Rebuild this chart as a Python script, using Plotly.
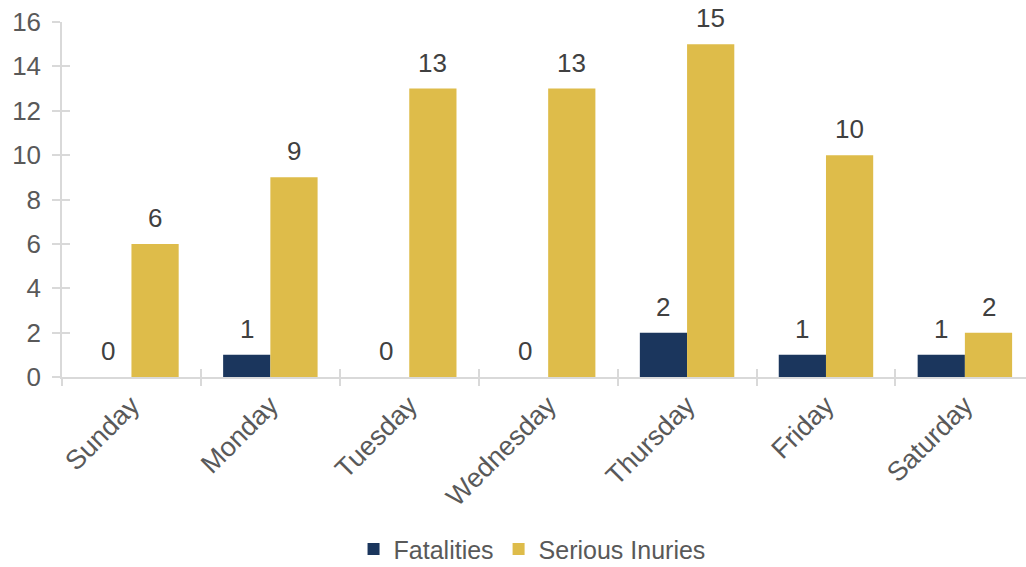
import plotly.graph_objects as go

days = ["Sunday", "Monday", "Tuesday", "Wednesday", "Thursday", "Friday", "Saturday"]
fatalities = [0, 1, 0, 0, 2, 1, 1]
serious_injuries = [6, 9, 13, 13, 15, 10, 2]

navy = "#1B365D"
gold = "#DEBC4A"
axis_grey = "#D9D9D9"
text_grey = "#595959"
label_grey = "#404040"
font_family = "Liberation Sans, Arial, sans-serif"
fs = 26

idx = list(range(len(days)))
bar_w = 0.34

fig = go.Figure()
fig.add_trace(go.Bar(x=[i - bar_w / 2 for i in idx], y=fatalities, width=bar_w,
                     name="Fatalities", marker=dict(color=navy, line=dict(width=0))))
fig.add_trace(go.Bar(x=[i + bar_w / 2 for i in idx], y=serious_injuries, width=bar_w,
                     name="Serious Inuries", marker=dict(color=gold, line=dict(width=0))))

# empty traces that activate the companion tick axes
for xa in ("x2", "x3"):
    fig.add_trace(go.Scatter(x=[], y=[], xaxis=xa, yaxis="y2", showlegend=False,
                             hoverinfo="skip"))

# value labels above each bar
for series, sign in ((fatalities, -1), (serious_injuries, 1)):
    for i, v in zip(idx, series):
        fig.add_annotation(x=i + sign * bar_w / 2, y=v, text=str(v), showarrow=False,
                           yanchor="bottom", yshift=9,
                           font=dict(size=fs, color=label_grey, family=font_family))

fig.update_layout(
    width=1026, height=567,
    margin=dict(l=62, r=0, t=22, b=190, autoexpand=False),
    plot_bgcolor="white", paper_bgcolor="white",
    font=dict(family=font_family, size=fs, color=text_grey),
    barmode="overlay",
    showlegend=True,
    legend=dict(orientation="h", x=0.4876, xanchor="center", y=-0.485, yanchor="middle",
                font=dict(size=25, color=text_grey), itemwidth=30, traceorder="normal"),
    xaxis=dict(range=[-0.5, 6.44], tickmode="array", tickvals=idx, ticktext=days,
               tickangle=-45, showgrid=False, zeroline=False,
               showline=True, linecolor=axis_grey, linewidth=1.5,
               ticks="", tickfont=dict(size=27, color=text_grey)),
    yaxis=dict(range=[0, 16], dtick=2, showgrid=False, zeroline=False,
               showline=True, linecolor=axis_grey, linewidth=1.5,
               ticks="outside", ticklen=8, tickcolor=axis_grey, tickwidth=1.5,
               ticklabelstandoff=6, tickfont=dict(size=fs, color=text_grey)),
    # companion axes carrying the tick marks that cross the axis lines
    xaxis2=dict(overlaying="x", anchor="y", range=[-0.5, 6.44], tick0=-0.5, dtick=1,
                ticks="outside", ticklen=8, tickcolor=axis_grey, tickwidth=1.5,
                showticklabels=False, showgrid=False, zeroline=False, showline=False),
    xaxis3=dict(overlaying="x", anchor="y", range=[-0.5, 6.44], tick0=-0.5, dtick=1,
                ticks="inside", ticklen=8, tickcolor=axis_grey, tickwidth=1.5,
                showticklabels=False, showgrid=False, zeroline=False, showline=False),
    yaxis2=dict(overlaying="y", anchor="x", range=[0, 16], dtick=2,
                ticks="inside", ticklen=8, tickcolor=axis_grey, tickwidth=1.5,
                showticklabels=False, showgrid=False, zeroline=False, showline=False),
)

fig.write_html("out.html")
